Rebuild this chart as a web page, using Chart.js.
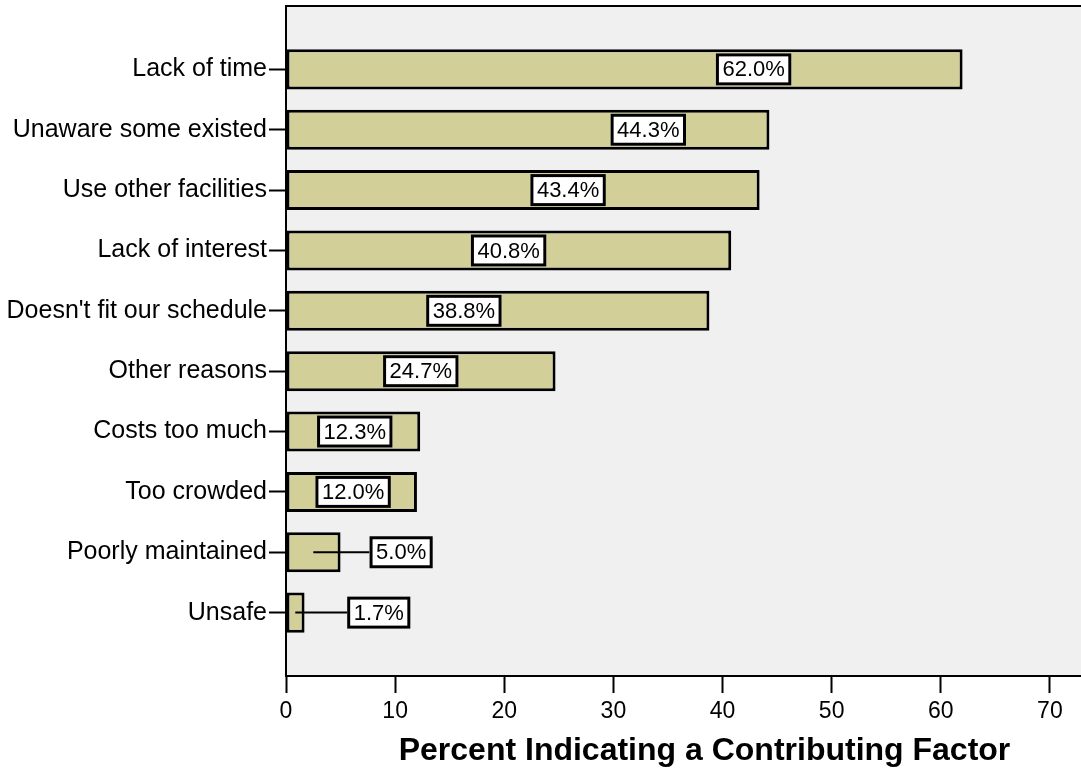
<!DOCTYPE html>
<html><head><meta charset="utf-8">
<style>html,body{margin:0;padding:0;background:#fff;overflow:hidden;} canvas{display:block;}</style>
<script src="https://cdn.jsdelivr.net/npm/chart.js@4.4.1/dist/chart.umd.min.js"></script>
</head><body>
<canvas id="c" width="1081" height="777"></canvas>
<script>
const categories = ["Lack of time","Unaware some existed","Use other facilities","Lack of interest","Doesn't fit our schedule","Other reasons","Costs too much","Too crowded","Poorly maintained","Unsafe"];
const percents = [62.0,44.3,43.4,40.8,38.8,24.7,12.3,12.0,5.0,1.7];
const valueLabels = ["62.0%","44.3%","43.4%","40.8%","38.8%","24.7%","12.3%","12.0%","5.0%","1.7%"];
const labelAnchors = [42.85,33.2,25.85,20.4,16.3,12.35,6.3,6.15,10.55,8.5];
const xTicks = [0,10,20,30,40,50,60,70];
const axisTitle = "Percent Indicating a Contributing Factor";

const FONT = '"Liberation Sans", Arial, Helvetica, sans-serif';
Chart.defaults.font.family = FONT;
Chart.defaults.color = '#000';

// the plot area continues past the right edge of the picture (it is cut off there)
const PLOT_OVERFLOW = 42;

const extendPlugin = {
  id: 'extend',
  afterLayout(chart) {
    const xs = chart.scales.x;
    const newRight = chart.width + PLOT_OVERFLOW;
    xs.right = newRight;
    xs.width = newRight - xs.left;
    chart.chartArea.right = newRight;
    chart.chartArea.width = newRight - chart.chartArea.left;
    xs.configure();
  }
};

const areaPlugin = {
  id: 'area',
  beforeDraw(chart) {
    const {ctx, chartArea: a} = chart;
    ctx.save();
    ctx.fillStyle = '#F0F0F0';
    ctx.fillRect(a.left, a.top, a.right - a.left, a.bottom - a.top);
    ctx.restore();
  },
  afterDraw(chart) {
    const {ctx, chartArea: a} = chart;
    ctx.save();
    ctx.strokeStyle = '#000';
    ctx.lineWidth = 2;
    ctx.beginPath();
    ctx.moveTo(a.left - 1, a.top);
    ctx.lineTo(a.right, a.top);
    ctx.stroke();
    ctx.restore();
  }
};

const labelPlugin = {
  id: 'boxLabels',
  afterDatasetsDraw(chart) {
    const ctx = chart.ctx, xs = chart.scales.x, ys = chart.scales.y;
    ctx.save();
    ctx.font = '22px ' + FONT;
    ctx.textBaseline = 'middle';
    ctx.textAlign = 'center';
    percents.forEach((v, i) => {
      const cy = ys.getPixelForValue(i);
      const cx = xs.getPixelForValue(labelAnchors[i]);
      const tw = ctx.measureText(valueLabels[i]).width;
      const w = tw + 13, h = 32;
      const left = cx - w / 2;
      const barEnd = xs.getPixelForValue(v);
      if (left > barEnd) {
        ctx.strokeStyle = '#000';
        ctx.lineWidth = 2;
        ctx.beginPath();
        ctx.moveTo(xs.getPixelForValue(v / 2), cy);
        ctx.lineTo(left, cy);
        ctx.stroke();
      }
      ctx.fillStyle = '#fff';
      ctx.fillRect(left, cy - h / 2, w, h);
      ctx.strokeStyle = '#000';
      ctx.lineWidth = 3;
      ctx.strokeRect(left + 1.5, cy - h / 2 + 1.5, w - 3, h - 3);
      ctx.fillStyle = '#000';
      ctx.fillText(valueLabels[i], cx, cy + 1);
    });
    ctx.restore();
  }
};

new Chart(document.getElementById('c'), {
  type: 'bar',
  data: {
    datasets: [{
      data: percents.map((v, i) => ({x: v, y: i})),
      backgroundColor: '#D3CF99',
      borderColor: '#000',
      borderWidth: 3,
      borderSkipped: false,
      barPercentage: 1,
      categoryPercentage: 0.663
    }]
  },
  options: {
    indexAxis: 'y',
    responsive: false,
    animation: false,
    devicePixelRatio: 1,
    layout: {padding: {top: 6, right: 0, left: 0, bottom: 0}},
    plugins: {legend: {display: false}, tooltip: {enabled: false}},
    scales: {
      x: {
        type: 'linear', position: 'bottom', min: 0, max: 76.7, offset: false,
        afterBuildTicks: s => { s.ticks = xTicks.map(v => ({value: v})); },
        afterFit: s => { s.height = 101; s.paddingRight = 0; s.paddingLeft = 0; s.paddingTop = 0; s.paddingBottom = 0; },
        grid: {offset: false, drawOnChartArea: false, drawTicks: true, tickLength: 17, tickWidth: 2, tickColor: '#000'},
        border: {display: true, color: '#000', width: 2},
        ticks: {color: '#000', font: {size: 23}, padding: 5, maxRotation: 0, autoSkip: false},
        title: {display: true, text: axisTitle, color: '#000', font: {size: 32, weight: 'bold'}, padding: {top: 0, bottom: 7}}
      },
      y: {
        type: 'linear', reverse: true, min: -1.05, max: 10.05, offset: false,
        afterBuildTicks: s => { s.ticks = categories.map((c, i) => ({value: i})); },
        afterFit: s => { s.width = 286; s.paddingTop = 0; s.paddingBottom = 0; s.paddingRight = 0; s.paddingLeft = 0; },
        grid: {offset: false, drawOnChartArea: false, drawTicks: true, tickLength: 17, tickWidth: 2, tickColor: '#000'},
        border: {display: true, color: '#000', width: 2},
        ticks: {color: '#000', font: {size: 25}, padding: 2, autoSkip: false, callback: v => categories[v]}
      }
    }
  },
  plugins: [extendPlugin, areaPlugin, labelPlugin]
});
</script>
</body></html>
